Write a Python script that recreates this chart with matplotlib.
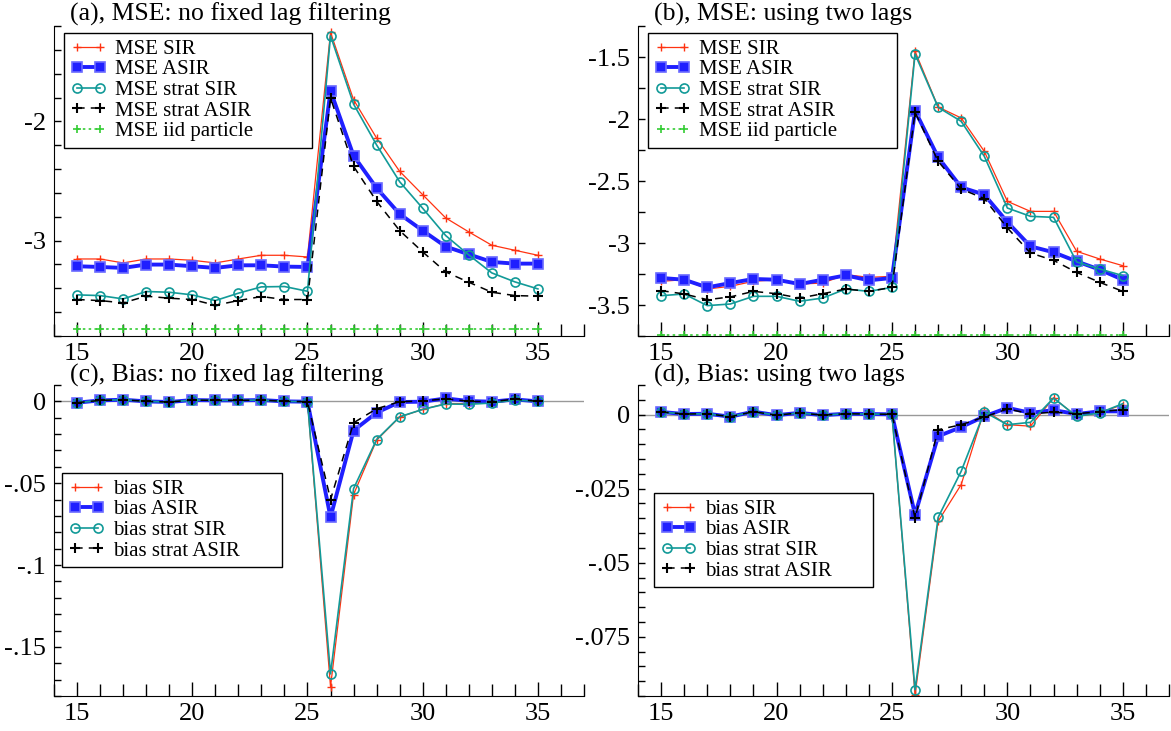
import numpy as np
import matplotlib.pyplot as plt
from matplotlib.ticker import MultipleLocator, FuncFormatter

plt.rcParams['font.family'] = ['Liberation Serif', 'DejaVu Serif']

t = [15, 16, 17, 18, 19, 20, 21, 22, 23, 24, 25, 26, 27, 28, 29, 30, 31, 32, 33, 34, 35]

# (a) log MSE, no fixed lag filtering
mse_sir_a = [-3.154, -3.154, -3.187, -3.154, -3.154, -3.165, -3.187, -3.154, -3.123, -3.123, -3.137,
             -1.254, -1.818, -2.140, -2.419, -2.615, -2.810, -2.927, -3.039, -3.081, -3.123]
mse_asir_a = [-3.215, -3.221, -3.229, -3.201, -3.201, -3.215, -3.229, -3.207, -3.207, -3.218, -3.221,
              -1.743, -2.288, -2.559, -2.777, -2.916, -3.050, -3.115, -3.179, -3.193, -3.193]
mse_ssir_a = [-3.455, -3.461, -3.489, -3.427, -3.433, -3.455, -3.503, -3.441, -3.388, -3.385, -3.425,
              -1.282, -1.855, -2.198, -2.506, -2.729, -2.958, -3.120, -3.271, -3.346, -3.405]
mse_sasir_a = [-3.494, -3.503, -3.522, -3.466, -3.483, -3.494, -3.542, -3.503, -3.469, -3.494, -3.494,
               -1.804, -2.377, -2.670, -2.916, -3.095, -3.263, -3.349, -3.433, -3.461, -3.466]
mse_iid = [-3.74, -3.74, -3.74, -3.74, -3.74, -3.74, -3.74, -3.74, -3.74, -3.74, -3.74,
           -3.74, -3.74, -3.74, -3.74, -3.74, -3.74, -3.74, -3.74, -3.74, -3.74]

# (b) log MSE, two lags
mse_sir_b = [-3.309, -3.296, -3.371, -3.349, -3.309, -3.296, -3.331, -3.323, -3.255, -3.277, -3.269,
             -1.454, -1.903, -1.992, -2.261, -2.664, -2.745, -2.745, -3.067, -3.129, -3.183]
mse_asir_b = [-3.282, -3.296, -3.358, -3.323, -3.290, -3.296, -3.331, -3.296, -3.261, -3.301, -3.282,
              -1.933, -2.309, -2.551, -2.610, -2.831, -3.027, -3.075, -3.148, -3.215, -3.296]
mse_ssir_b = [-3.425, -3.411, -3.505, -3.492, -3.430, -3.430, -3.470, -3.444, -3.371, -3.390, -3.358,
              -1.476, -1.906, -2.019, -2.301, -2.718, -2.785, -2.793, -3.153, -3.210, -3.263]
mse_sasir_b = [-3.384, -3.411, -3.457, -3.435, -3.390, -3.409, -3.444, -3.409, -3.371, -3.390, -3.358,
               -1.946, -2.341, -2.565, -2.642, -2.879, -3.081, -3.140, -3.237, -3.317, -3.390]

# (c) bias, no fixed lag filtering
bias_sir_c = [-0.0008, 0.0006, 0.0010, 0.0000, -0.0004, 0.0008, 0.0006, 0.0006, 0.0008, 0.0000, -0.0002,
              -0.1743, -0.0569, -0.0237, -0.0096, -0.0049, -0.0014, -0.0014, -0.0008, 0.0006, 0.0000]
bias_asir_c = [-0.0008, 0.0006, 0.0010, 0.0000, -0.0004, 0.0008, 0.0006, 0.0006, 0.0008, 0.0000, -0.0002,
               -0.0708, -0.0178, -0.0069, -0.0004, -0.0002, 0.0018, 0.0002, -0.0002, 0.0012, 0.0000]
bias_ssir_c = [-0.0008, 0.0006, 0.0010, 0.0000, -0.0004, 0.0008, 0.0006, 0.0006, 0.0008, 0.0000, -0.0002,
               -0.1665, -0.0533, -0.0233, -0.0094, -0.0049, -0.0016, -0.0018, -0.0010, 0.0008, 0.0000]
bias_sasir_c = [-0.0008, 0.0006, 0.0010, 0.0000, -0.0004, 0.0008, 0.0006, 0.0006, 0.0008, 0.0000, -0.0002,
                -0.0600, -0.0131, -0.0045, -0.0002, 0.0002, 0.0016, 0.0000, -0.0002, 0.0014, 0.0000]

# (d) bias, two lags
bias_sir_d = [0.0009, 0.0002, 0.0003, -0.0007, 0.0010, -0.0002, 0.0006, -0.0002, 0.0003, 0.0002, 0.0001,
              -0.0946, -0.0360, -0.0236, 0.0015, -0.0034, -0.0039, 0.0056, -0.0006, 0.0006, 0.0034]
bias_asir_d = [0.0009, 0.0002, 0.0003, -0.0007, 0.0010, -0.0002, 0.0006, -0.0002, 0.0003, 0.0002, 0.0001,
               -0.0338, -0.0073, -0.0042, -0.0006, 0.0023, 0.0006, 0.0015, 0.0002, 0.0011, 0.0011]
bias_ssir_d = [0.0009, 0.0002, 0.0003, -0.0007, 0.0010, -0.0002, 0.0006, -0.0002, 0.0003, 0.0002, 0.0001,
               -0.0929, -0.0347, -0.0191, 0.0009, -0.0034, -0.0026, 0.0056, -0.0006, 0.0006, 0.0037]
bias_sasir_d = [0.0009, 0.0002, 0.0003, -0.0007, 0.0010, -0.0002, 0.0006, -0.0002, 0.0003, 0.0002, 0.0001,
                -0.0349, -0.0051, -0.0034, -0.0008, 0.0019, 0.0003, 0.0008, 0.0003, 0.0010, 0.0017]

titles = ["(a), MSE: no fixed lag filtering", "(b), MSE: using two lags",
          "(c), Bias: no fixed lag filtering", "(d), Bias: using two lags"]

RED = '#ff3311'
BLUE = '#1f1fff'
TEAL = '#129a98'
GREEN = '#33cc33'

W, H = 1171, 731
fig = plt.figure(figsize=(W / 100, H / 100), dpi=100)


def px(x0, y0, x1, y1):
    # pixel box (left, top, right, bottom) -> figure fraction rect
    return [x0 / W, 1 - y1 / H, (x1 - x0) / W, (y1 - y0) / H]


def stata_fmt(v, pos):
    s = f"{v:g}"
    if s in ("-0", "0"):
        return "0"
    s = s.replace("-0.", "-.")
    if s.startswith("0."):
        s = s[1:]
    return s


def series(ax, ys, names, iid=None):
    ax.plot(t, ys[0], color=RED, lw=0.9, marker='+', ms=6, mew=1.0, label=names[0])
    ax.plot(t, ys[1], color=BLUE, lw=2.8, marker='s', ms=7.5, mfc=BLUE, mec='#6a6aff', mew=1.2,
            label=names[1])
    ax.plot(t, ys[2], color=TEAL, lw=1.2, marker='o', ms=6.5, mfc='none', mec=TEAL, mew=1.2,
            label=names[2])
    ax.plot(t, ys[3], color='black', lw=1.1, ls=(0, (5, 4)), marker='+', ms=6.5, mew=1.5,
            label=names[3])
    if iid is not None:
        ax.plot(t, iid, color=GREEN, lw=1.2, ls=(0, (1.5, 2)), marker='+', ms=6, mew=1.2,
                label="MSE iid particle")


def style(ax, ylim, major, minor):
    ax.set_xlim(14, 37)
    ax.set_ylim(*ylim)
    ax.spines['top'].set_visible(False)
    ax.spines['right'].set_visible(False)
    ax.xaxis.set_major_locator(MultipleLocator(5))
    ax.xaxis.set_minor_locator(MultipleLocator(1))
    ax.yaxis.set_major_locator(MultipleLocator(major))
    ax.yaxis.set_minor_locator(MultipleLocator(minor))
    ax.yaxis.set_major_formatter(FuncFormatter(stata_fmt))
    ax.tick_params(axis='x', which='major', direction='in', length=10, width=1, labelsize=19, pad=5)
    ax.tick_params(axis='x', which='minor', direction='in', length=9, width=1)
    ax.tick_params(axis='y', which='both', direction='in', length=5, width=1, labelsize=19, pad=6)


def legend(ax, x0, y0, x1, y1):
    ax.legend(loc='upper left', bbox_to_anchor=(x0 / W, 1 - y1 / H, (x1 - x0) / W, (y1 - y0) / H),
              bbox_transform=fig.transFigure, mode='expand', borderaxespad=0, fontsize=15,
              numpoints=2, handlelength=1.75, handletextpad=0.4, labelspacing=0.05,
              borderpad=0.3, fancybox=False, framealpha=1, edgecolor='black')
    ax.get_legend().get_frame().set_linewidth(1.0)


mse_names = ["MSE SIR", "MSE ASIR", "MSE strat SIR", "MSE strat ASIR"]
bias_names = ["bias SIR", "bias ASIR", "bias strat SIR", "bias strat ASIR"]

ax_a = fig.add_axes(px(54, 26, 584, 336))
series(ax_a, [mse_sir_a, mse_asir_a, mse_ssir_a, mse_sasir_a], mse_names, mse_iid)
style(ax_a, (-3.8, -1.2), 1, 0.2)
legend(ax_a, 64, 33, 312, 146)

ax_b = fig.add_axes(px(638, 26, 1169, 336))
series(ax_b, [mse_sir_b, mse_asir_b, mse_ssir_b, mse_sasir_b], mse_names, mse_iid)
style(ax_b, (-3.75, -1.25), 0.5, 0.25)
legend(ax_b, 648, 33, 897, 146)

ax_c = fig.add_axes(px(54, 385, 584, 696))
ax_c.axhline(0, color='#999999', lw=1.0, zorder=0)
series(ax_c, [bias_sir_c, bias_asir_c, bias_ssir_c, bias_sasir_c], bias_names)
style(ax_c, (-0.18, 0.01), 0.05, 0.01)
legend(ax_c, 62, 473, 282, 564)

ax_d = fig.add_axes(px(638, 385, 1169, 696))
ax_d.axhline(0, color='#999999', lw=1.0, zorder=0)
series(ax_d, [bias_sir_d, bias_asir_d, bias_ssir_d, bias_sasir_d], bias_names)
style(ax_d, (-0.095, 0.01), 0.025, 0.005)
legend(ax_d, 654, 493, 873, 585)

# panel titles sit just above each plot area
for (x, y), title in zip([(70, 21), (654, 21), (70, 382), (654, 382)], titles):
    fig.text(x / W, 1 - y / H, title, fontsize=18.5, ha='left', va='baseline')

fig.savefig("out.png", dpi=100)
plt.close()
